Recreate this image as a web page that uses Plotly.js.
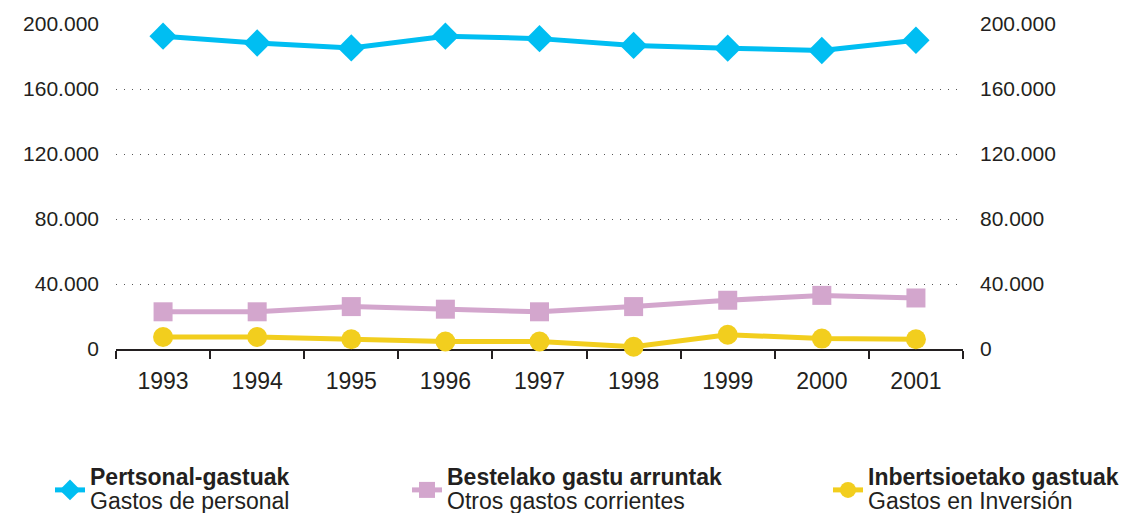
<!DOCTYPE html>
<html>
<head>
<meta charset="utf-8">
<script src="https://cdn.plot.ly/plotly-3.0.1.min.js"></script>
<style>html,body{margin:0;padding:0;background:#fff;}#chart{width:1133px;height:513px;}</style>
</head>
<body>
<div id="chart"></div>
<script>
var years = ['1993','1994','1995','1996','1997','1998','1999','2000','2001'];
var personal = [192500, 188300, 185300, 192500, 191000, 186800, 185100, 183700, 190000];
var otros = [22900, 22900, 26100, 24500, 22900, 26100, 30000, 33000, 31400];
var inversion = [7400, 7400, 6000, 4600, 4600, 1400, 8800, 6400, 6000];
var yTicks = [0, 40000, 80000, 120000, 160000, 200000];
var titlesEu = ['Pertsonal-gastuak', 'Bestelako gastu arruntak', 'Inbertsioetako gastuak'];
var titlesEs = ['Gastos de personal', 'Otros gastos corrientes', 'Gastos en Inversión'];
var colors = ['#00BEF2', '#D3A6CD', '#F2CE1E'];

var font = 'Liberation Sans, Arial, Helvetica, sans-serif';
var txt = '#231f20';

function legName(i) {
  return '<span style="font-size:23px"><b>' + titlesEu[i] + '</b></span><br>' +
         '<span style="font-size:23px">' + titlesEs[i] + '</span>';
}

var traces = [
  {x: years, y: personal, name: legName(0), mode: 'lines+markers', cliponaxis: false,
   line: {color: colors[0], width: 5}, marker: {symbol: 'diamond', size: 21, color: colors[0]}, legend: 'legend'},
  {x: years, y: otros, name: legName(1), mode: 'lines+markers', cliponaxis: false,
   line: {color: colors[1], width: 5}, marker: {symbol: 'square', size: 19, color: colors[1]}, legend: 'legend2'},
  {x: years, y: inversion, name: legName(2), mode: 'lines+markers', cliponaxis: false,
   line: {color: colors[2], width: 5}, marker: {symbol: 'circle', size: 20, color: colors[2]}, legend: 'legend3'},
  {x: years, y: personal, yaxis: 'y2', mode: 'none', showlegend: false, hoverinfo: 'skip'}
];

function leg(px) {
  return {xref: 'container', yref: 'container', x: px / 1133, y: 1 - 460 / 513,
    xanchor: 'left', yanchor: 'top', bgcolor: 'rgba(0,0,0,0)', borderwidth: 0,
    font: {family: font, size: 18, color: txt}, itemsizing: 'trace'};
}

var layout = {
  width: 1133, height: 513,
  margin: {l: 116, r: 170, t: 24, b: 164, autoexpand: false},
  paper_bgcolor: '#fff', plot_bgcolor: '#fff',
  separators: ',.',
  font: {family: font, size: 21, color: txt},
  showlegend: true,
  xaxis: {
    type: 'category', range: [-0.5, 8.5], fixedrange: true, tickangle: 0,
    showline: true, linecolor: txt, linewidth: 2,
    ticks: 'outside', tickson: 'boundaries', ticklen: 8, tickwidth: 2, tickcolor: txt,
    showgrid: false, zeroline: false, layer: 'below traces',
    tickfont: {family: font, size: 23, color: txt}, ticklabelstandoff: 10
  },
  yaxis: {
    range: [0, 200000], tickvals: yTicks, tickformat: ',d',
    showgrid: true, gridcolor: '#555', gridwidth: 1, griddash: '1px,7px',
    zeroline: false, showline: false, ticks: '', ticklabelstandoff: 16,
    tickfont: {family: font, size: 21, color: txt}, layer: 'below traces'
  },
  yaxis2: {
    overlaying: 'y', side: 'right', matches: 'y', range: [0, 200000], tickvals: yTicks, tickformat: ',d',
    showgrid: false, zeroline: false, showline: false, ticks: '', ticklabelstandoff: 16,
    tickfont: {family: font, size: 21, color: txt}
  },
  legend: leg(50),
  legend2: leg(407),
  legend3: leg(828)
};

Plotly.newPlot('chart', traces, layout, {staticPlot: true, displayModeBar: false});
</script>
</body>
</html>
